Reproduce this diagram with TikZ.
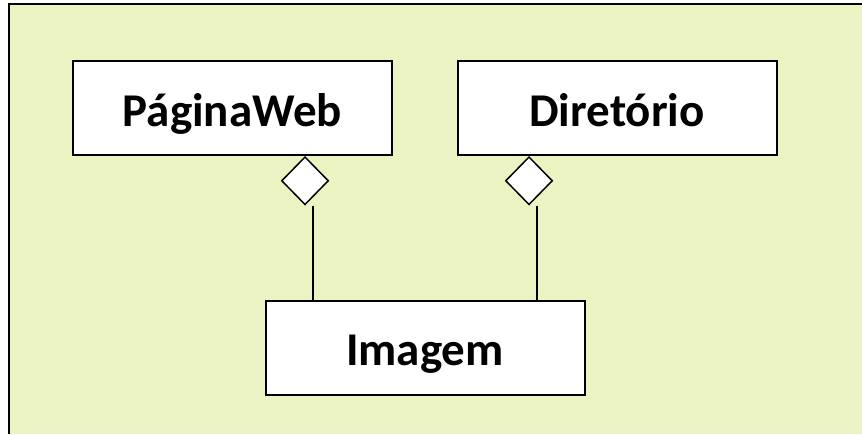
\documentclass[tikz,border=0pt]{standalone}
\usepackage{fontspec}
\setmainfont{Carlito}
\usetikzlibrary{shapes.geometric,positioning}

\definecolor{fundo}{RGB}{235,243,194}

\tikzset{
	classe/.style={draw,line width=2pt,fill=white,minimum width=319pt,minimum height=94pt,inner sep=0pt,text height=36pt,text depth=0pt,font=\fontsize{47}{56}\selectfont\bfseries},
	agreg/.style={diamond,draw,line width=1.5pt,fill=white,minimum width=47pt,minimum height=48pt,inner sep=0pt,anchor=north},
	liga/.style={line width=1.5pt}
}

\begin{document}
\begin{tikzpicture}[x=1pt,y=-1pt]
	\useasboundingbox (0,0) rectangle (862,434);
	
	%FUNDO
	\fill[fundo] (9,4) rectangle (862,434);
	\draw[line width=2.5pt] (9,434) -- (9,4) -- (862,4);
	
	%CLASSES
	\node[classe] (pagina) at (232.5,108) {PáginaWeb};
	\node[classe] (diretorio) at (617,108) {Diretório};
	\node[classe] (imagem) at (425,347.5) {Imagem};
	
	%AGREGACOES
	\node[agreg] (diaP) at ([xshift=72.5pt]pagina.south) {};
	\node[agreg] (diaD) at ([xshift=-88pt]diretorio.south) {};
	
	\draw[liga] ([xshift=8pt]diaP.south) -- ([xshift=8pt]diaP.south |- imagem.north);
	\draw[liga] ([xshift=8pt]diaD.south) -- ([xshift=8pt]diaD.south |- imagem.north);
\end{tikzpicture}
\end{document}
